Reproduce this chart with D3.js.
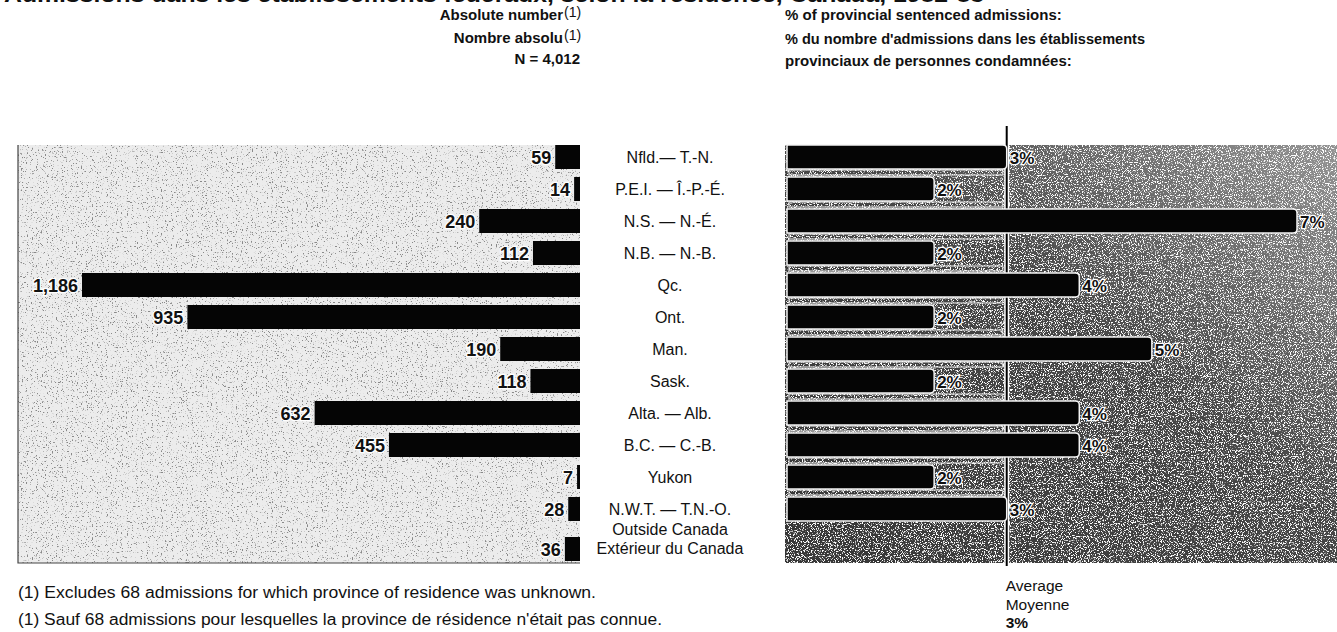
<!DOCTYPE html>
<html>
<head>
<meta charset="utf-8">
<script src="https://cdn.jsdelivr.net/npm/d3@7"></script>
<style>
  body { margin: 0; background: #fff; }
  text { font-family: "Liberation Sans", Arial, sans-serif; fill: #111; }
</style>
</head>
<body>
<svg id="chart" width="1337" height="632"></svg>
<script>
// Data
const provinces = [
    "Nfld.— T.-N.", "P.E.I. — Î.-P.-É.", "N.S. — N.-É.", "N.B. — N.-B.", "Qc.", "Ont.",
    "Man.", "Sask.", "Alta. — Alb.", "B.C. — C.-B.", "Yukon", "N.W.T. — T.N.-O.", "Outside Canada"
];
const absoluteNumbers = [59, 14, 240, 112, 1186, 935, 190, 118, 632, 455, 7, 28, 36];
const provincialShares = [3, 2, 7, 2, 4, 2, 5, 2, 4, 4, 2, 3, null];
const averageShare = 3;
const totalN = 4012;

const svg = d3.select('#chart');
const defs = svg.append('defs');

// speckled print texture
function speckle(id, rgb, freq, gain, offset, seed) {
    const f = defs.append('filter').attr('id', id)
        .attr('x', 0).attr('y', 0).attr('width', '100%').attr('height', '100%');
    f.append('feTurbulence').attr('type', 'fractalNoise').attr('baseFrequency', freq)
        .attr('numOctaves', 2).attr('seed', seed).attr('result', 'noise');
    f.append('feColorMatrix').attr('in', 'noise').attr('type', 'matrix')
        .attr('values', `0 0 0 0 ${rgb[0]}  0 0 0 0 ${rgb[1]}  0 0 0 0 ${rgb[2]}  ${gain} 0 0 0 ${offset}`)
        .attr('result', 'dots');
    const m = f.append('feMerge');
    m.append('feMergeNode').attr('in', 'SourceGraphic');
    m.append('feMergeNode').attr('in', 'dots');
}
speckle('speckDark', [0.25, 0.25, 0.25], 0.8, 9, -5.5, 4);
speckle('speckLight', [1, 1, 1], 0.85, 9, -4.9, 7);

const grad = defs.append('linearGradient').attr('id', 'rightGrad')
    .attr('x1', 0).attr('y1', 1).attr('x2', 1).attr('y2', 0);
grad.append('stop').attr('offset', 0).attr('stop-color', '#363636');
grad.append('stop').attr('offset', 0.55).attr('stop-color', '#464646');
grad.append('stop').attr('offset', 1).attr('stop-color', '#949494');

// layout
const panelTop = 145, panelBottom = 563;
const leftPanel = { x0: 18, x1: 580 };
const rightPanel = { x0: 785, x1: 1337 };
const midX = 670;

const y = d3.scaleBand().domain(provinces).range([141, 557]);
const barH = y.bandwidth() * 0.75;
const lastCat = provinces[provinces.length - 1];
const cy = d => y(d) + y.bandwidth() / 2 + (d === lastCat ? 8 : 0);

const xLeft = d3.scaleLinear().domain([0, 1186]).range([leftPanel.x1, 82]);
const xRight = d3.scaleLinear().domain([0, 7]).range([789, 1297]);

const rows = provinces.map((p, i) => ({ name: p, abs: absoluteNumbers[i], pct: provincialShares[i] }));

// title (cut off at top of the picture)
svg.append('text').attr('x', 4).attr('y', 2)
    .attr('font-size', 22).attr('font-weight', 'bold')
    .attr('textLength', 980).attr('lengthAdjust', 'spacingAndGlyphs')
    .text('Admissions dans les établissements fédéraux, selon la résidence, Canada, 1982-83');

// headers
const hdr = svg.append('g').attr('font-weight', 'bold').attr('font-size', 15);
hdr.append('text').attr('x', 563).attr('y', 20).attr('text-anchor', 'end').attr('font-weight', 'bold').text('Absolute number');
hdr.append('text').attr('x', 563).attr('y', 43).attr('text-anchor', 'end').attr('font-weight', 'bold').text('Nombre absolu');
hdr.append('text').attr('x', 564).attr('y', 17).attr('font-size', 14).attr('font-weight', 'normal').text('(1)');
hdr.append('text').attr('x', 564).attr('y', 40).attr('font-size', 14).attr('font-weight', 'normal').text('(1)');
hdr.append('text').attr('x', 580).attr('y', 64).attr('text-anchor', 'end').attr('font-weight', 'bold')
    .text('N = ' + d3.format(',')(totalN));
hdr.append('text').attr('x', 785).attr('y', 20).attr('font-weight', 'bold').text('% of provincial sentenced admissions:');
hdr.append('text').attr('x', 785).attr('y', 44).attr('font-weight', 'bold')
    .attr('textLength', 360).attr('lengthAdjust', 'spacingAndGlyphs')
    .text("% du nombre d'admissions dans les établissements");
hdr.append('text').attr('x', 785).attr('y', 66).attr('font-weight', 'bold').text('provinciaux de personnes condamnées:');

// left panel
svg.append('rect').attr('x', leftPanel.x0).attr('y', panelTop)
    .attr('width', leftPanel.x1 - leftPanel.x0).attr('height', panelBottom - panelTop)
    .attr('fill', '#ececec').attr('filter', 'url(#speckDark)');
svg.append('path')
    .attr('d', `M${leftPanel.x0},${panelTop}V${panelBottom}H${leftPanel.x1}`)
    .attr('fill', 'none').attr('stroke', '#444').attr('stroke-width', 1.2);

svg.append('g').selectAll('rect').data(rows).join('rect')
    .attr('x', d => xLeft(d.abs))
    .attr('y', d => cy(d.name) - barH / 2)
    .attr('width', d => xLeft(0) - xLeft(d.abs))
    .attr('height', barH)
    .attr('fill', '#050505');

svg.append('g').selectAll('text').data(rows).join('text')
    .attr('x', d => xLeft(d.abs) - 4)
    .attr('y', d => cy(d.name) + 6.5)
    .attr('text-anchor', 'end')
    .attr('font-size', 18).attr('font-weight', 'bold')
    .attr('stroke', '#fff').attr('stroke-width', 2.5).attr('paint-order', 'stroke')
    .text(d => d3.format(',')(d.abs));

// category labels
const mid = svg.append('g').attr('font-size', 16).attr('text-anchor', 'middle');
mid.selectAll('text').data(provinces.slice(0, -1)).join('text')
    .attr('x', midX).attr('y', d => cy(d) + 5.5).text(d => d);
mid.append('text').attr('x', midX).attr('y', 535).text('Outside Canada');
mid.append('text').attr('x', midX).attr('y', 554).text('Extérieur du Canada');

// right panel
svg.append('rect').attr('x', rightPanel.x0).attr('y', panelTop)
    .attr('width', rightPanel.x1 - rightPanel.x0).attr('height', panelBottom - panelTop)
    .attr('fill', 'url(#rightGrad)').attr('filter', 'url(#speckLight)');

const avgX = xRight(averageShare);

// light strips between rows, left of the average line
const gaps = provinces.slice(0, -2).map(p => cy(p) + y.bandwidth() / 2);
svg.append('g').selectAll('rect').data(gaps).join('rect')
    .attr('x', rightPanel.x0 + 4).attr('y', d => d - 3)
    .attr('width', avgX - rightPanel.x0 - 8).attr('height', 5)
    .attr('fill', 'none').attr('stroke', '#eee').attr('stroke-width', 1.2).attr('opacity', 0.85);

// average line
svg.append('line').attr('x1', avgX).attr('x2', avgX).attr('y1', 126).attr('y2', 566)
    .attr('stroke', '#fff').attr('stroke-width', 5);
svg.append('line').attr('x1', avgX).attr('x2', avgX).attr('y1', 126).attr('y2', 566)
    .attr('stroke', '#000').attr('stroke-width', 2);

const pctRows = rows.filter(d => d.pct !== null);
svg.append('g').selectAll('path').data(pctRows).join('path')
    .attr('d', d => {
        const x0 = xRight.range()[0] - 2, x1 = xRight(d.pct), y0 = cy(d.name) - barH / 2, r = 4;
        return `M${x0},${y0}H${x1 - r}Q${x1},${y0} ${x1},${y0 + r}V${y0 + barH - r}Q${x1},${y0 + barH} ${x1 - r},${y0 + barH}H${x0}Z`;
    })
    .attr('fill', '#050505').attr('stroke', '#f4f4f4').attr('stroke-width', 1.5);

svg.append('g').selectAll('text').data(pctRows).join('text')
    .attr('x', d => xRight(d.pct) + 3)
    .attr('y', d => cy(d.name) + 6.5)
    .attr('font-size', 17).attr('font-weight', 'bold')
    .attr('stroke', '#fff').attr('stroke-width', 2.5).attr('paint-order', 'stroke')
    .text(d => d.pct + '%');

// average labels
const avg = svg.append('g').attr('font-size', 15.5);
avg.append('text').attr('x', avgX - 1).attr('y', 591).text('Average');
avg.append('text').attr('x', avgX - 1).attr('y', 610).text('Moyenne');
avg.append('text').attr('x', avgX - 1).attr('y', 628).attr('font-weight', 'bold').text(averageShare + '%');

// footnotes
const fn = svg.append('g').attr('font-size', 16);
fn.append('text').attr('x', 18).attr('y', 598)
    .attr('textLength', 578).attr('lengthAdjust', 'spacingAndGlyphs')
    .text('(1) Excludes 68 admissions for which province of residence was unknown.');
fn.append('text').attr('x', 18).attr('y', 625)
    .attr('textLength', 644).attr('lengthAdjust', 'spacingAndGlyphs')
    .text("(1) Sauf 68 admissions pour lesquelles la province de résidence n'était pas connue.");
</script>
</body>
</html>
